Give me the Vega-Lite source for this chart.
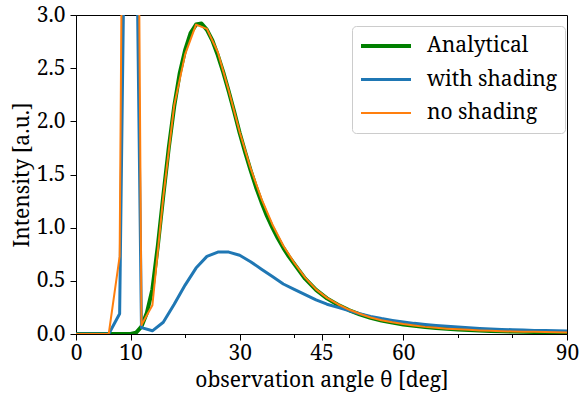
{
  "$schema": "https://vega.github.io/schema/vega-lite/v6.json",
  "width": 491,
  "height": 319,
  "autosize": {"type": "none"},
  "padding": {"left": 76, "top": 15, "right": 14, "bottom": 67},
  "background": "white",
  "config": {
    "view": {"stroke": "black", "strokeWidth": 1},
    "font": "Noto Serif",
    "axis": {
      "domainColor": "black",
      "tickColor": "black",
      "labelColor": "black",
      "titleColor": "black",
      "labelFont": "Noto Serif",
      "titleFont": "Noto Serif",
      "labelFontSize": 21,
      "titleFontSize": 21,
      "titleFontWeight": "normal",
      "labelFlush": false,
      "grid": false,
      "tickWidth": 1,
      "domainWidth": 1,
      "zindex": 1
    },
    "legend": {
      "labelFont": "Noto Serif",
      "labelFontSize": 21,
      "labelColor": "black"
    }
  },
  "datasets": {
    "analytical": [
      {"theta": 0, "intensity": 0, "series": "Analytical"},
      {"theta": 2, "intensity": 0, "series": "Analytical"},
      {"theta": 4, "intensity": 0, "series": "Analytical"},
      {"theta": 6, "intensity": 0, "series": "Analytical"},
      {"theta": 8, "intensity": 0, "series": "Analytical"},
      {"theta": 9, "intensity": 0, "series": "Analytical"},
      {"theta": 10, "intensity": 0, "series": "Analytical"},
      {"theta": 11, "intensity": 0.012, "series": "Analytical"},
      {"theta": 12, "intensity": 0.07, "series": "Analytical"},
      {"theta": 13, "intensity": 0.2, "series": "Analytical"},
      {"theta": 14, "intensity": 0.42, "series": "Analytical"},
      {"theta": 15, "intensity": 0.83, "series": "Analytical"},
      {"theta": 16, "intensity": 1.3, "series": "Analytical"},
      {"theta": 17, "intensity": 1.75, "series": "Analytical"},
      {"theta": 18, "intensity": 2.14, "series": "Analytical"},
      {"theta": 19, "intensity": 2.45, "series": "Analytical"},
      {"theta": 20, "intensity": 2.67, "series": "Analytical"},
      {"theta": 21, "intensity": 2.83, "series": "Analytical"},
      {"theta": 22, "intensity": 2.91, "series": "Analytical"},
      {"theta": 23, "intensity": 2.92, "series": "Analytical"},
      {"theta": 24, "intensity": 2.86, "series": "Analytical"},
      {"theta": 25, "intensity": 2.76, "series": "Analytical"},
      {"theta": 26, "intensity": 2.62, "series": "Analytical"},
      {"theta": 27, "intensity": 2.46, "series": "Analytical"},
      {"theta": 28, "intensity": 2.28, "series": "Analytical"},
      {"theta": 29, "intensity": 2.09, "series": "Analytical"},
      {"theta": 30, "intensity": 1.89, "series": "Analytical"},
      {"theta": 31, "intensity": 1.71, "series": "Analytical"},
      {"theta": 32, "intensity": 1.54, "series": "Analytical"},
      {"theta": 33, "intensity": 1.38, "series": "Analytical"},
      {"theta": 34, "intensity": 1.24, "series": "Analytical"},
      {"theta": 35, "intensity": 1.11, "series": "Analytical"},
      {"theta": 36, "intensity": 1.0, "series": "Analytical"},
      {"theta": 37, "intensity": 0.9, "series": "Analytical"},
      {"theta": 38, "intensity": 0.81, "series": "Analytical"},
      {"theta": 39, "intensity": 0.73, "series": "Analytical"},
      {"theta": 40, "intensity": 0.66, "series": "Analytical"},
      {"theta": 42, "intensity": 0.52, "series": "Analytical"},
      {"theta": 44, "intensity": 0.415, "series": "Analytical"},
      {"theta": 46, "intensity": 0.335, "series": "Analytical"},
      {"theta": 48, "intensity": 0.275, "series": "Analytical"},
      {"theta": 50, "intensity": 0.225, "series": "Analytical"},
      {"theta": 52, "intensity": 0.185, "series": "Analytical"},
      {"theta": 54, "intensity": 0.152, "series": "Analytical"},
      {"theta": 56, "intensity": 0.127, "series": "Analytical"},
      {"theta": 58, "intensity": 0.107, "series": "Analytical"},
      {"theta": 60, "intensity": 0.09, "series": "Analytical"},
      {"theta": 62, "intensity": 0.077, "series": "Analytical"},
      {"theta": 64, "intensity": 0.065, "series": "Analytical"},
      {"theta": 66, "intensity": 0.056, "series": "Analytical"},
      {"theta": 68, "intensity": 0.049, "series": "Analytical"},
      {"theta": 70, "intensity": 0.043, "series": "Analytical"},
      {"theta": 72, "intensity": 0.038, "series": "Analytical"},
      {"theta": 74, "intensity": 0.033, "series": "Analytical"},
      {"theta": 76, "intensity": 0.029, "series": "Analytical"},
      {"theta": 78, "intensity": 0.026, "series": "Analytical"},
      {"theta": 80, "intensity": 0.023, "series": "Analytical"},
      {"theta": 82, "intensity": 0.021, "series": "Analytical"},
      {"theta": 84, "intensity": 0.019, "series": "Analytical"},
      {"theta": 86, "intensity": 0.017, "series": "Analytical"},
      {"theta": 88, "intensity": 0.016, "series": "Analytical"},
      {"theta": 90, "intensity": 0.014, "series": "Analytical"}
    ],
    "simulated": [
      {"theta": 0, "intensity": 0, "series": "with shading"},
      {"theta": 2, "intensity": 0, "series": "with shading"},
      {"theta": 4, "intensity": 0, "series": "with shading"},
      {"theta": 6, "intensity": 0, "series": "with shading"},
      {"theta": 8, "intensity": 0.19, "series": "with shading"},
      {"theta": 10, "intensity": 8.5, "series": "with shading"},
      {"theta": 12, "intensity": 0.06, "series": "with shading"},
      {"theta": 14, "intensity": 0.03, "series": "with shading"},
      {"theta": 16, "intensity": 0.11, "series": "with shading"},
      {"theta": 18, "intensity": 0.28, "series": "with shading"},
      {"theta": 20, "intensity": 0.46, "series": "with shading"},
      {"theta": 22, "intensity": 0.62, "series": "with shading"},
      {"theta": 24, "intensity": 0.73, "series": "with shading"},
      {"theta": 26, "intensity": 0.77, "series": "with shading"},
      {"theta": 28, "intensity": 0.77, "series": "with shading"},
      {"theta": 30, "intensity": 0.74, "series": "with shading"},
      {"theta": 32, "intensity": 0.68, "series": "with shading"},
      {"theta": 34, "intensity": 0.61, "series": "with shading"},
      {"theta": 36, "intensity": 0.54, "series": "with shading"},
      {"theta": 38, "intensity": 0.47, "series": "with shading"},
      {"theta": 40, "intensity": 0.42, "series": "with shading"},
      {"theta": 42, "intensity": 0.37, "series": "with shading"},
      {"theta": 44, "intensity": 0.32, "series": "with shading"},
      {"theta": 46, "intensity": 0.28, "series": "with shading"},
      {"theta": 48, "intensity": 0.25, "series": "with shading"},
      {"theta": 50, "intensity": 0.22, "series": "with shading"},
      {"theta": 52, "intensity": 0.19, "series": "with shading"},
      {"theta": 54, "intensity": 0.165, "series": "with shading"},
      {"theta": 56, "intensity": 0.145, "series": "with shading"},
      {"theta": 58, "intensity": 0.128, "series": "with shading"},
      {"theta": 60, "intensity": 0.113, "series": "with shading"},
      {"theta": 62, "intensity": 0.1, "series": "with shading"},
      {"theta": 64, "intensity": 0.09, "series": "with shading"},
      {"theta": 66, "intensity": 0.08, "series": "with shading"},
      {"theta": 68, "intensity": 0.072, "series": "with shading"},
      {"theta": 70, "intensity": 0.065, "series": "with shading"},
      {"theta": 72, "intensity": 0.058, "series": "with shading"},
      {"theta": 74, "intensity": 0.052, "series": "with shading"},
      {"theta": 76, "intensity": 0.047, "series": "with shading"},
      {"theta": 78, "intensity": 0.043, "series": "with shading"},
      {"theta": 80, "intensity": 0.04, "series": "with shading"},
      {"theta": 82, "intensity": 0.037, "series": "with shading"},
      {"theta": 84, "intensity": 0.034, "series": "with shading"},
      {"theta": 86, "intensity": 0.032, "series": "with shading"},
      {"theta": 88, "intensity": 0.03, "series": "with shading"},
      {"theta": 90, "intensity": 0.028, "series": "with shading"},
      {"theta": 0, "intensity": 0, "series": "no shading"},
      {"theta": 2, "intensity": 0, "series": "no shading"},
      {"theta": 4, "intensity": 0, "series": "no shading"},
      {"theta": 6, "intensity": 0, "series": "no shading"},
      {"theta": 8, "intensity": 0.73, "series": "no shading"},
      {"theta": 10, "intensity": 15, "series": "no shading"},
      {"theta": 12, "intensity": 0.085, "series": "no shading"},
      {"theta": 14, "intensity": 0.27, "series": "no shading"},
      {"theta": 16, "intensity": 1.29, "series": "no shading"},
      {"theta": 18, "intensity": 2.15, "series": "no shading"},
      {"theta": 20, "intensity": 2.63, "series": "no shading"},
      {"theta": 22, "intensity": 2.91, "series": "no shading"},
      {"theta": 24, "intensity": 2.87, "series": "no shading"},
      {"theta": 26, "intensity": 2.65, "series": "no shading"},
      {"theta": 28, "intensity": 2.29, "series": "no shading"},
      {"theta": 30, "intensity": 1.9, "series": "no shading"},
      {"theta": 32, "intensity": 1.56, "series": "no shading"},
      {"theta": 34, "intensity": 1.27, "series": "no shading"},
      {"theta": 36, "intensity": 1.03, "series": "no shading"},
      {"theta": 38, "intensity": 0.83, "series": "no shading"},
      {"theta": 40, "intensity": 0.67, "series": "no shading"},
      {"theta": 42, "intensity": 0.53, "series": "no shading"},
      {"theta": 44, "intensity": 0.42, "series": "no shading"},
      {"theta": 46, "intensity": 0.34, "series": "no shading"},
      {"theta": 48, "intensity": 0.28, "series": "no shading"},
      {"theta": 50, "intensity": 0.23, "series": "no shading"},
      {"theta": 52, "intensity": 0.19, "series": "no shading"},
      {"theta": 54, "intensity": 0.155, "series": "no shading"},
      {"theta": 56, "intensity": 0.13, "series": "no shading"},
      {"theta": 58, "intensity": 0.11, "series": "no shading"},
      {"theta": 60, "intensity": 0.093, "series": "no shading"},
      {"theta": 62, "intensity": 0.079, "series": "no shading"},
      {"theta": 64, "intensity": 0.067, "series": "no shading"},
      {"theta": 66, "intensity": 0.058, "series": "no shading"},
      {"theta": 68, "intensity": 0.05, "series": "no shading"},
      {"theta": 70, "intensity": 0.044, "series": "no shading"},
      {"theta": 72, "intensity": 0.039, "series": "no shading"},
      {"theta": 74, "intensity": 0.034, "series": "no shading"},
      {"theta": 76, "intensity": 0.03, "series": "no shading"},
      {"theta": 78, "intensity": 0.027, "series": "no shading"},
      {"theta": 80, "intensity": 0.024, "series": "no shading"},
      {"theta": 82, "intensity": 0.022, "series": "no shading"},
      {"theta": 84, "intensity": 0.02, "series": "no shading"},
      {"theta": 86, "intensity": 0.018, "series": "no shading"},
      {"theta": 88, "intensity": 0.016, "series": "no shading"},
      {"theta": 90, "intensity": 0.015, "series": "no shading"}
    ]
  },
  "layer": [
    {
      "data": {"name": "analytical"},
      "mark": {"type": "line", "clip": true, "strokeJoin": "round"},
      "encoding": {
        "x": {
          "field": "theta",
          "type": "quantitative",
          "scale": {"domain": [0, 90], "nice": false},
          "axis": {
            "orient": "bottom",
            "values": [0, 10, 30, 45, 60, 90],
            "tickSize": 6,
            "labelPadding": 2,
            "title": "observation angle θ [deg]",
            "titlePadding": 6
          }
        },
        "y": {
          "field": "intensity",
          "type": "quantitative",
          "scale": {"domain": [0, 3], "nice": false},
          "axis": {
            "values": [0, 0.5, 1, 1.5, 2, 2.5, 3],
            "format": ".1f",
            "tickSize": 6,
            "labelPadding": 5,
            "title": "Intensity [a.u.]",
            "titlePadding": 4
          }
        },
        "color": {
          "field": "series",
          "type": "nominal",
          "scale": {
            "domain": ["Analytical", "with shading", "no shading"],
            "range": ["#008000", "#1f77b4", "#ff7f0e"]
          },
          "legend": {
            "title": null,
            "orient": "none",
            "legendX": 276,
            "legendY": 11,
            "fillColor": "white",
            "strokeColor": "#cccccc",
            "cornerRadius": 4,
            "padding": 7,
            "symbolType": "stroke",
            "symbolSize": 2500,
            "clipHeight": 26,
            "labelOffset": 14,
            "rowPadding": 7.5
          }
        },
        "strokeWidth": {
          "field": "series",
          "type": "nominal",
          "scale": {
            "domain": ["Analytical", "with shading", "no shading"],
            "range": [4, 2, 2]
          },
          "legend": {
            "title": null,
            "orient": "none",
            "legendX": 276,
            "legendY": 11,
            "fillColor": "white",
            "strokeColor": "#cccccc",
            "cornerRadius": 4,
            "padding": 7,
            "symbolType": "stroke",
            "symbolSize": 2500,
            "clipHeight": 26,
            "labelOffset": 14,
            "rowPadding": 7.5
          }
        }
      }
    },
    {
      "data": {"name": "simulated"},
      "mark": {"type": "line", "clip": true, "strokeJoin": "round"},
      "encoding": {
        "x": {
          "field": "theta",
          "type": "quantitative",
          "axis": {
            "orient": "bottom",
            "values": [20, 40, 50, 70, 80],
            "tickSize": 3.5,
            "labels": false,
            "domain": false,
            "title": null
          }
        },
        "y": {
          "field": "intensity",
          "type": "quantitative",
          "axis": {
            "values": [0, 0.5, 1, 1.5, 2, 2.5, 3],
            "format": ".1f",
            "tickSize": 6,
            "labelPadding": 5,
            "title": "Intensity [a.u.]",
            "titlePadding": 4
          }
        },
        "color": {"field": "series", "type": "nominal"},
        "strokeWidth": {"field": "series", "type": "nominal"}
      }
    }
  ],
  "resolve": {"axis": {"x": "independent"}}
}
